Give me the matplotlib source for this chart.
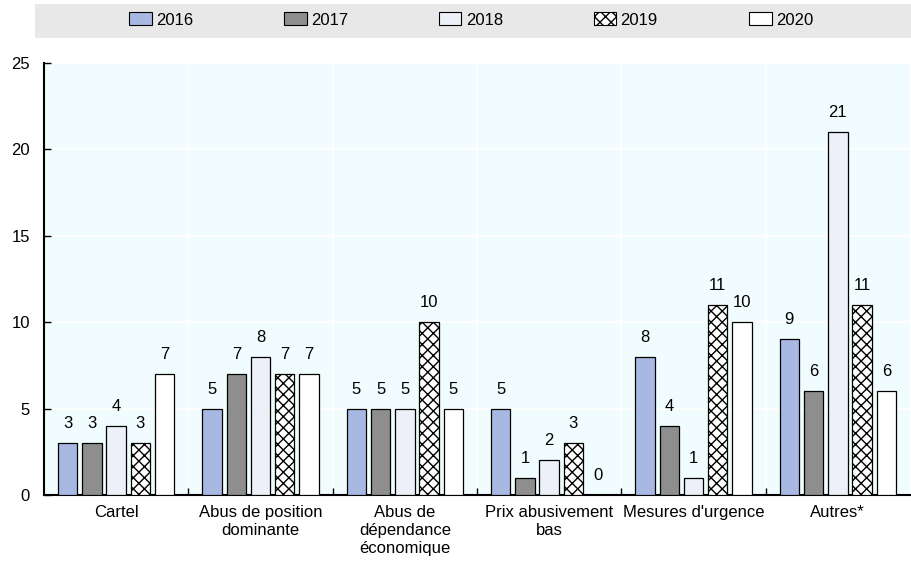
import matplotlib
matplotlib.use("Agg")
import matplotlib.pyplot as plt
import numpy as np
from matplotlib.patches import Rectangle, Patch

plt.rcParams['font.family'] = ['Liberation Sans', 'DejaVu Sans']
plt.rcParams['hatch.linewidth'] = 1.0

categories = ["Cartel", "Abus de position\ndominante", "Abus de\ndépendance\néconomique",
              "Prix abusivement\nbas", "Mesures d'urgence", "Autres*"]
years = ["2016", "2017", "2018", "2019", "2020"]
v2016 = [3, 5, 5, 5, 8, 9]
v2017 = [3, 7, 5, 1, 4, 6]
v2018 = [4, 8, 5, 2, 1, 21]
v2019 = [3, 7, 10, 3, 11, 11]
v2020 = [7, 7, 5, 0, 10, 6]
series = [v2016, v2017, v2018, v2019, v2020]

colors = ["#A7B9E2", "#8E8E8E", "#EDF0F9", "#FFFFFF", "#FFFFFF"]
hatches = [None, None, None, "xxx", None]
FS = 12

fig = plt.figure(figsize=(9.11, 5.66), dpi=100)
ax = fig.add_axes([44 / 911, 1 - 495 / 566, 866 / 911, (495 - 63) / 566])
ax.set_facecolor("#F0FCFD")

x = np.arange(len(categories))
pitch = 0.168
width = 0.135
for i, (vals, c, h) in enumerate(zip(series, colors, hatches)):
    pos = x + (i - 2) * pitch
    ax.bar(pos, vals, width, color=c, edgecolor="black", linewidth=0.9,
           hatch=h, zorder=3)
    for px, v in zip(pos, vals):
        ax.text(px, v + 0.7, str(v), ha="center", va="bottom", fontsize=FS, zorder=4)

ax.set_xlim(-0.5, len(categories) - 0.5)
ax.set_ylim(0, 25)
ax.set_yticks([0, 5, 10, 15, 20, 25])
ax.set_xticks(x)
ax.set_xticklabels(categories, fontsize=FS, linespacing=1.25)
ax.set_xticks(np.arange(0.5, len(categories) - 0.5, 1), minor=True)
ax.tick_params(axis="x", which="major", length=0, pad=7)
ax.tick_params(axis="x", which="minor", length=5, direction="in", width=1)
ax.tick_params(axis="y", direction="in", length=5, width=1, labelsize=FS, pad=10)
ax.grid(axis="y", color="white", linewidth=1.2, zorder=0)
ax.grid(axis="x", which="minor", color="white", linewidth=1.2, zorder=0)
for s in ["top", "right"]:
    ax.spines[s].set_visible(False)
for s in ["left", "bottom"]:
    ax.spines[s].set_linewidth(1.5)

# legend band
fig.patches.append(Rectangle((35 / 911, 1 - 38 / 566), 876 / 911, 34 / 566,
                             transform=fig.transFigure, facecolor="#E8E8E8",
                             edgecolor="none", zorder=0))
handles = [Patch(facecolor=c, edgecolor="black", linewidth=0.8, hatch=h)
           for c, h in zip(colors, hatches)]
fig.legend(handles, years, loc="center", bbox_to_anchor=(471 / 911, 1 - 20 / 566),
           ncol=5, frameon=False, fontsize=FS, handlelength=1.35, handleheight=0.8,
           handletextpad=0.25, columnspacing=5.47)

fig.savefig("out.png", dpi=100)
